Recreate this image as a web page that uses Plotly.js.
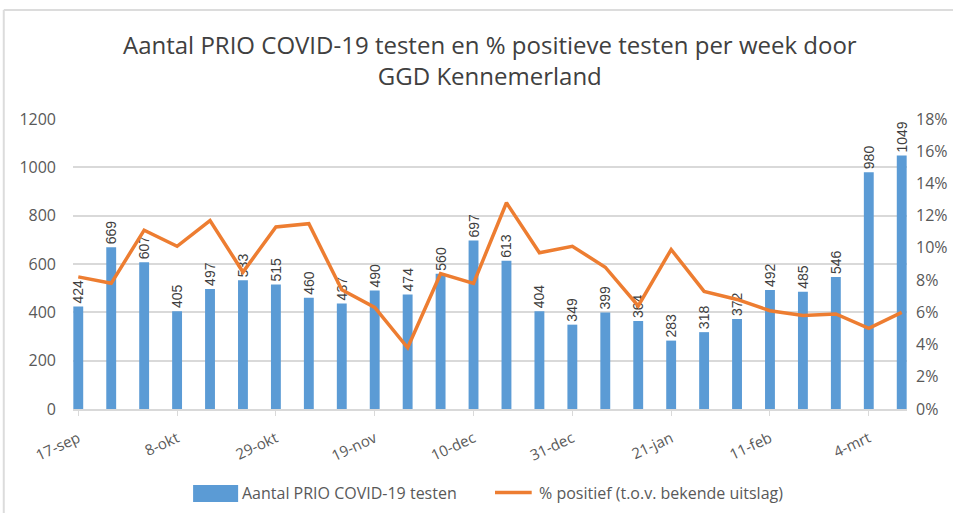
<!DOCTYPE html>
<html>
<head>
<meta charset="utf-8">
<script src="https://cdn.plot.ly/plotly-3.0.1.min.js"></script>
<style>
  body { margin: 0; background: #fff; }
  #chart { width: 953px; height: 513px; }
</style>
</head>
<body>
<div id="chart"></div>
<script>
var weeks = ['17-sep', '24-sep', '1-okt', '8-okt', '15-okt', '22-okt', '29-okt', '5-nov', '12-nov',
    '19-nov', '26-nov', '3-dec', '10-dec', '17-dec', '24-dec', '31-dec', '7-jan', '14-jan',
    '21-jan', '28-jan', '4-feb', '11-feb', '18-feb', '25-feb', '4-mrt', '11-mrt']
var tests = [424, 669, 607, 405, 497, 533, 515, 460, 437, 490, 474, 560, 697, 613, 404, 349, 399, 364,
    283, 318, 372, 492, 485, 546, 980, 1049]
var positive = [8.2, 7.8, 11.1, 10.1, 11.7, 8.5, 11.3, 11.5, 7.4, 6.3, 3.8, 8.4, 7.8, 12.8, 9.7, 10.1, 8.8, 6.4,
    9.9, 7.3, 6.8, 6.1, 5.8, 5.9, 5.0, 6.0]
var shown_ticks = ['17-sep', '8-okt', '29-okt', '19-nov', '10-dec', '31-dec', '21-jan', '11-feb', '4-mrt']
var series_names = ['Aantal PRIO COVID-19 testen', '% positief (t.o.v. bekende uitslag)']

var txt = '#595959'
var blue = '#5B9BD5'
var orange = '#ED7D31'

var bars = {
    type: 'bar',
    name: series_names[0],
    x: weeks,
    y: tests,
    text: tests.map(String),
    textposition: 'outside',
    textangle: -90,
    constraintext: 'none',
    cliponaxis: false,
    textfont: { family: 'Liberation Sans, Arial, sans-serif', size: 14, color: '#404040' },
    marker: { color: blue },
    hoverinfo: 'x+y'
}

var line = {
    type: 'scatter',
    mode: 'lines',
    name: series_names[1],
    x: weeks,
    y: positive.map(function (v) { return v / 100 }),
    yaxis: 'y2',
    line: { color: orange, width: 3.5 }
}

// legend drawn by hand so the swatches look like the Excel ones
var legend_shapes = [
    { type: 'rect', xref: 'paper', yref: 'paper', x0: 0.144, x1: 0.198, y0: -0.321, y1: -0.262,
      fillcolor: blue, line: { width: 0 } },
    { type: 'line', xref: 'paper', yref: 'paper', x0: 0.506, x1: 0.550, y0: -0.288, y1: -0.288,
      line: { color: orange, width: 3.5 } }
]
var legend_texts = [
    { xref: 'paper', yref: 'paper', x: 0.200, y: -0.290, xanchor: 'left', yanchor: 'middle',
      text: series_names[0], showarrow: false, font: { size: 16, color: txt } },
    { xref: 'paper', yref: 'paper', x: 0.556, y: -0.290, xanchor: 'left', yanchor: 'middle',
      text: series_names[1], showarrow: false, font: { size: 16, color: txt } }
]

var frame = [
    { type: 'line', xref: 'paper', yref: 'paper', x0: -0.083, x1: -0.083, y0: -0.4, y1: 1.376,
      line: { color: '#dcdcdc', width: 2 } },
    { type: 'line', xref: 'paper', yref: 'paper', x0: -0.083, x1: 1.06, y0: 1.376, y1: 1.376,
      line: { color: '#dcdcdc', width: 2 } }
]

var layout = {
    width: 953,
    height: 513,
    margin: { l: 73, r: 46, t: 119, b: 104 },
    paper_bgcolor: '#ffffff',
    plot_bgcolor: '#ffffff',
    font: { family: 'Open Sans, sans-serif', size: 14, color: txt },
    title: {
        text: 'Aantal PRIO COVID-19 testen en % positieve testen per week door<br>GGD Kennemerland',
        font: { family: 'Open Sans, sans-serif', size: 24, color: '#404040' },
        x: 0.514, xanchor: 'center',
        y: 0.895, yanchor: 'top'
    },
    bargap: 0.7,
    xaxis: {
        type: 'category',
        range: [-0.16, 25.16],
        tickmode: 'array',
        tickvals: shown_ticks,
        ticktext: shown_ticks,
        tickangle: -25,
        ticks: 'outside',
        ticklen: 5,
        tickcolor: '#d9d9d9',
        ticklabelstandoff: 8,
        showline: true,
        linecolor: '#d9d9d9',
        linewidth: 2,
        showgrid: false,
        automargin: false,
        tickfont: { size: 15, color: txt }
    },
    yaxis: {
        range: [0, 1200],
        dtick: 200,
        gridcolor: '#d9d9d9',
        gridwidth: 1.5,
        zeroline: false,
        ticks: '',
        automargin: false,
        ticklabelstandoff: 16,
        tickfont: { size: 16, color: txt }
    },
    yaxis2: {
        overlaying: 'y',
        side: 'right',
        range: [0, 0.18],
        dtick: 0.02,
        tickformat: '.0%',
        showgrid: false,
        zeroline: false,
        automargin: false,
        ticklabelstandoff: 8,
        tickfont: { size: 16, color: txt }
    },
    showlegend: false,
    shapes: frame.concat(legend_shapes),
    annotations: legend_texts
}

var config = { responsive: false, displayModeBar: false }

Plotly.newPlot('chart', [bars, line], layout, config)
</script>
</body>
</html>
